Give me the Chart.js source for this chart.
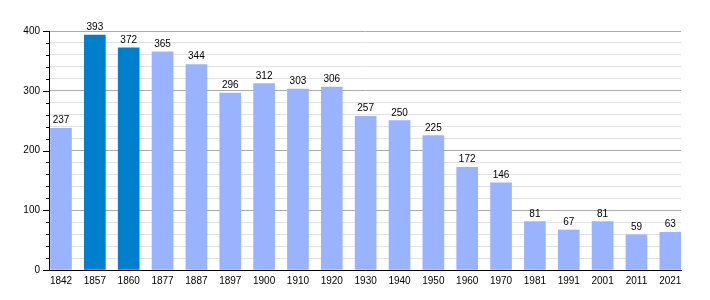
<!DOCTYPE html>
<html>
<head>
<meta charset="utf-8">
<script src="https://cdn.jsdelivr.net/npm/chart.js@4/dist/chart.umd.min.js"></script>
<style>
  html, body { margin: 0; padding: 0; background: #fff; }
  #wrap { width: 710px; height: 300px; }
</style>
</head>
<body>
<div id="wrap"><canvas id="popChart"></canvas></div>
<script>
const years = ["1842", "1857", "1860", "1877", "1887", "1897", "1900", "1910", "1920", "1930",
  "1940", "1950", "1960", "1970", "1981", "1991", "2001", "2011", "2021"];
const population = [237, 393, 372, 365, 344, 296, 312, 303, 306, 257,
  250, 225, 172, 146, 81, 67, 81, 59, 63];
const highlightYears = ["1857", "1860"];
const yMax = 400;

const lightBlue = "#99b3ff";
const darkBlue = "#007fcd";

Chart.defaults.font.family = "'Liberation Sans', Arial, sans-serif";
Chart.defaults.font.size = 10;
Chart.defaults.color = "#000";

// value above each bar
const valueLabels = {
  id: "valueLabels",
  afterDatasetsDraw(chart) {
    const c = chart.ctx;
    const meta = chart.getDatasetMeta(0);
    c.save();
    c.font = "10px 'Liberation Sans', Arial, sans-serif";
    c.fillStyle = "#000";
    c.textAlign = "center";
    c.textBaseline = "alphabetic";
    meta.data.forEach((bar, i) => {
      c.fillText(population[i], bar.x, bar.y - 5);
    });
    c.restore();
  }
};

// tick marks left of the y axis, longer at labelled values
const yTickMarks = {
  id: "yTickMarks",
  afterDraw(chart) {
    const y = chart.scales.y;
    const c = chart.ctx;
    const left = chart.chartArea.left;
    c.save();
    c.strokeStyle = "#000";
    c.lineWidth = 1;
    y.ticks.forEach((t) => {
      const py = Math.round(y.getPixelForValue(t.value)) + 0.5;
      const len = t.value % 100 === 0 ? 6 : 3;
      c.beginPath();
      c.moveTo(left - len, py);
      c.lineTo(left, py);
      c.stroke();
    });
    c.restore();
  }
};

const chart = new Chart(document.getElementById("popChart"), {
  type: "bar",
  data: {
    datasets: [
      {
        data: population.map((v, i) => ({ x: i, y: v })),
        backgroundColor: years.map((y) => (highlightYears.includes(y) ? darkBlue : lightBlue)),
        barThickness: 21,
        borderWidth: 0,
      },
    ],
  },
  options: {
    responsive: true,
    maintainAspectRatio: false,
    animation: false,
    layout: { padding: { top: 31, right: 29, bottom: 0, left: 0 } },
    plugins: {
      legend: { display: false },
      tooltip: { enabled: false },
    },
    scales: {
      x: {
        type: "linear",
        offset: false,
        min: -0.3545,
        max: 18.316,
        grid: { display: false, offset: false, drawTicks: false },
        border: { display: true, color: "#000", width: 1 },
        ticks: {
          stepSize: 1,
          includeBounds: false,
          autoSkip: false,
          maxRotation: 0,
          padding: 5,
          callback: (v) => (Number.isInteger(v) && years[v] !== undefined ? years[v] : ""),
        },
        afterFit: (scale) => { scale.height = 30; },
      },
      y: {
        min: 0,
        max: yMax,
        border: { display: true, color: "#000", width: 1 },
        grid: {
          drawTicks: false,
          color: (ctx) => (ctx.tick.value % 100 === 0 ? "#aaaaaa" : "#e2e2e2"),
        },
        ticks: {
          stepSize: 20,
          autoSkip: false,
          padding: 9,
          callback: (v) => (v % 100 === 0 ? v : ""),
        },
        afterFit: (scale) => { scale.width = 49; },
      },
    },
  },
  plugins: [valueLabels, yTickMarks],
});
</script>
</body>
</html>
